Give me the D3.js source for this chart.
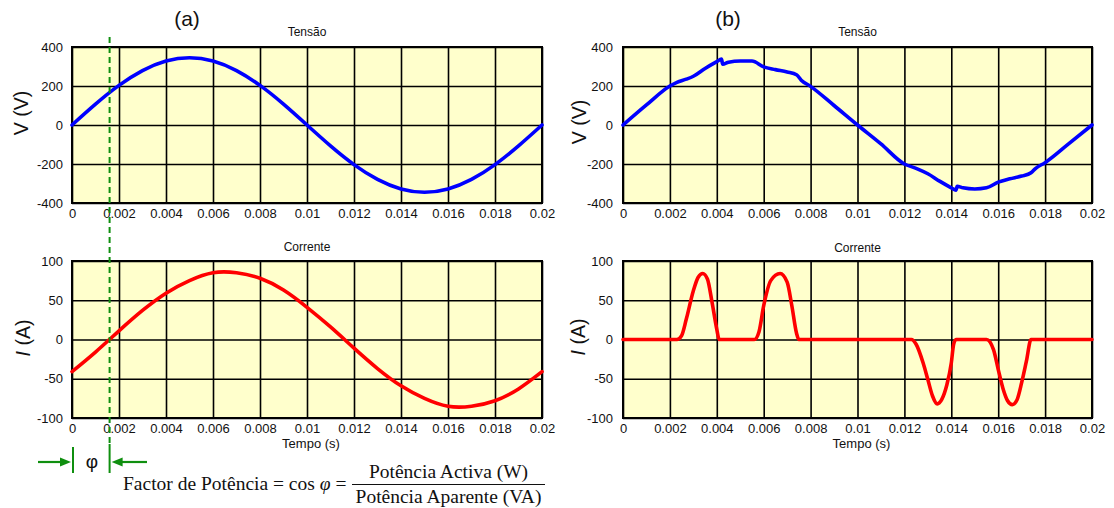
<!DOCTYPE html>
<html><head><meta charset="utf-8">
<script src="https://cdn.jsdelivr.net/npm/d3@7"></script>
<style>
body{margin:0;background:#fff;}
svg{display:block;font-family:"Liberation Sans",Arial,sans-serif;}
</style></head>
<body>
<script>
// ---------- data ----------
const xTicks = [0,0.002,0.004,0.006,0.008,0.01,0.012,0.014,0.016,0.018,0.02];
const xTickLabels = ["0","0.002","0.004","0.006","0.008","0.01","0.012","0.014","0.016","0.018","0.02"];
const vTicks = [-400,-200,0,200,400];
const vTickLabels = ["-400","-200","0","200","400"];
const iTicks = [-100,-50,0,50,100];
const iTickLabels = ["-100","-50","0","50","100"];

// (a) linear load
const tA = [0,0.001,0.002,0.003,0.004,0.005,0.006,0.007,0.008,0.009,0.01,0.011,0.012,0.013,0.014,0.015,0.016,0.017,0.018,0.019,0.02];
const vA = [0,107,203,279,328,345,328,279,203,107,0,-107,-203,-279,-328,-345,-328,-279,-203,-107,0];
const iA = [-41,-16,11,37,59,75,85,85,78,63,41,16,-11,-37,-59,-75,-85,-85,-78,-63,-41];

// (b) non-linear load
const tBv = [0,0.001,0.002,0.0023,0.0027,0.003,0.0035,0.004,0.0042,0.00425,0.0045,0.005,0.0055,0.006,0.0065,0.007,0.0074,0.0076,0.008,0.009,0.01,
             0.011,0.012,0.0125,0.013,0.0135,0.014,0.0142,0.01425,0.0145,0.015,0.0155,0.016,0.0165,0.017,0.0174,0.0176,0.018,0.019,0.02];
const vB  = [0,103,200,219,235,250,290,325,338,312,322,328,328,298,284,272,258,230,198,100,0,
             -97,-200,-222,-250,-288,-322,-334,-314,-322,-328,-322,-293,-276,-262,-245,-222,-193,-97,0];
const tBi = [0,0.0023,0.0025,0.0027,0.003,0.0032,0.0034,0.0036,0.0038,0.004,0.0041,0.0056,0.0058,0.006,0.0063,0.0067,0.007,0.0072,0.0074,0.0075,
             0.0123,0.0125,0.0128,0.013,0.0132,0.0134,0.0136,0.0138,0.014,0.0141,0.0142,0.0155,0.0158,0.016,0.0162,0.0164,0.0166,0.0168,0.017,0.0172,0.0174,0.02];
const iB  = [0,0,5,26,62,79,84,77,47,13,0,0,10,43,75,84,73,43,8,0,
             0,-6,-30,-51,-72,-82,-76,-59,-30,-6,0,0,-13,-38,-62,-78,-83,-77,-55,-28,0,0];

const panelTitles = ["Tensão","Corrente"];
const panelLetters = ["(a)","(b)"];

// ---------- drawing ----------
const W = 1114, H = 508;
const svg = d3.select("body").append("svg").attr("width",W).attr("height",H);
svg.append("rect").attr("width",W).attr("height",H).attr("fill","#fff");

const BG = "#FFFFCC";
const GREEN = "#0f8f0f";

function panel(o){
  const x = d3.scaleLinear().domain([0,0.02]).range(o.xr);
  const y = d3.scaleLinear().domain(o.yd).range(o.yr);
  const g = svg.append("g");
  g.append("rect").attr("x",o.xr[0]).attr("y",o.yr[1])
    .attr("width",o.xr[1]-o.xr[0]).attr("height",o.yr[0]-o.yr[1]).attr("fill",BG);

  const ax = g.append("g").attr("transform",`translate(0,${o.yr[0]})`)
    .call(d3.axisBottom(x).tickValues(xTicks).tickSize(-(o.yr[0]-o.yr[1])).tickPadding(6)
      .tickFormat((d,i)=>xTickLabels[i]));
  const ay = g.append("g").attr("transform",`translate(${o.xr[0]},0)`)
    .call(d3.axisLeft(y).tickValues(o.yt).tickSize(-(o.xr[1]-o.xr[0])).tickPadding(o.ypad)
      .tickFormat((d,i)=>o.ytl[i]));
  [ax,ay].forEach(a=>{
    a.select(".domain").remove();
    a.selectAll("line").attr("stroke","#000").attr("stroke-width",1.6);
    a.selectAll("text").attr("font-size",13).attr("fill","#111")
      .attr("font-family","'Liberation Sans',Arial,sans-serif");
  });
  g.append("rect").attr("x",o.xr[0]).attr("y",o.yr[1])
    .attr("width",o.xr[1]-o.xr[0]).attr("height",o.yr[0]-o.yr[1])
    .attr("fill","none").attr("stroke","#000").attr("stroke-width",2);

  const line = d3.line().x(d=>x(d[0])).y(d=>y(d[1])).curve(o.curve);
  g.append("path").datum(o.t.map((t,i)=>[t,o.v[i]]))
    .attr("d",line).attr("fill","none").attr("stroke",o.color)
    .attr("stroke-width",3.6).attr("stroke-linejoin","round").attr("stroke-linecap","round");

  const cx = (o.xr[0]+o.xr[1])/2;
  g.append("text").attr("x",cx).attr("y",o.titleY).attr("text-anchor","middle")
    .attr("font-size",12).attr("fill","#111").text(o.title);

  const yl = g.append("text").attr("transform",`translate(${o.ylx},${o.yly}) rotate(-90)`)
    .attr("text-anchor","middle").attr("font-size",19.5).attr("fill","#111");
  yl.append("tspan").attr("font-style","italic").text(o.ylab[0]);
  yl.append("tspan").text(o.ylab[1]);

  if(o.tempo){
    g.append("text").attr("x",cx+4).attr("y",448).attr("text-anchor","middle")
      .attr("font-size",13).attr("fill","#111").text("Tempo (s)");
  }
  return {x,y};
}

const L = [72,542], R = [623,1092];
const TOP = [203,47], BOT = [418,261];

const pa = panel({xr:L,yr:TOP,yd:[-400,400],yt:vTicks,ytl:vTickLabels,ypad:9,t:tA,v:vA,color:"#0000ff",
  curve:d3.curveNatural,title:panelTitles[0],titleY:36,ylab:["","V (V)"],ylx:28,yly:113});
panel({xr:L,yr:BOT,yd:[-100,100],yt:iTicks,ytl:iTickLabels,ypad:9,t:tA,v:iA,color:"#ff0000",
  curve:d3.curveNatural,title:panelTitles[1],titleY:251,ylab:["I"," (A)"],ylx:30,yly:338,tempo:true});
panel({xr:R,yr:TOP,yd:[-400,400],yt:vTicks,ytl:vTickLabels,ypad:10,t:tBv,v:vB,color:"#0000ff",
  curve:d3.curveMonotoneX,title:panelTitles[0],titleY:36,ylab:["","V (V)"],ylx:586,yly:122});
panel({xr:R,yr:BOT,yd:[-100,100],yt:iTicks,ytl:iTickLabels,ypad:10,t:tBi,v:iB,color:"#ff0000",
  curve:d3.curveMonotoneX,title:panelTitles[1],titleY:252,ylab:["I"," (A)"],ylx:585,yly:337,tempo:true});

// panel letters
svg.append("text").attr("x",187).attr("y",26).attr("text-anchor","middle").attr("font-size",21).attr("fill","#111").text(panelLetters[0]);
svg.append("text").attr("x",728).attr("y",26).attr("text-anchor","middle").attr("font-size",21).attr("fill","#111").text(panelLetters[1]);

// phase shift annotation
const phiT = 0.0016;
const px = pa.x(phiT);
svg.append("line").attr("x1",px).attr("x2",px).attr("y1",37).attr("y2",446)
  .attr("stroke",GREEN).attr("stroke-width",2).attr("stroke-dasharray","6,4");
svg.append("line").attr("x1",px).attr("x2",px).attr("y1",444).attr("y2",473)
  .attr("stroke",GREEN).attr("stroke-width",2);
svg.append("line").attr("x1",pa.x(0)+1).attr("x2",pa.x(0)+1).attr("y1",447).attr("y2",473)
  .attr("stroke",GREEN).attr("stroke-width",2);
// arrows
svg.append("line").attr("x1",38).attr("x2",62).attr("y1",462).attr("y2",462).attr("stroke",GREEN).attr("stroke-width",2.2);
svg.append("path").attr("d",`M${pa.x(0)-1},462 L${pa.x(0)-12},457.5 L${pa.x(0)-12},466.5 Z`).attr("fill",GREEN);
svg.append("line").attr("x1",px+12).attr("x2",147).attr("y1",462).attr("y2",462).attr("stroke",GREEN).attr("stroke-width",2.2);
svg.append("path").attr("d",`M${px+2},462 L${px+13},457.5 L${px+13},466.5 Z`).attr("fill",GREEN);
svg.append("text").attr("x",92).attr("y",468).attr("text-anchor","middle").attr("font-size",19).attr("fill","#111").text("φ");

// formula
const fs = 19.5;
const fg = svg.append("g").attr("font-family","'Liberation Serif','Times New Roman',serif").attr("font-size",fs).attr("fill","#111");
const main = fg.append("text").attr("x",123).attr("y",490);
main.append("tspan").text("Factor de Potência = cos ");
main.append("tspan").attr("font-style","italic").text("φ");
main.append("tspan").text(" =");
fg.append("line").attr("x1",352).attr("x2",545).attr("y1",484.5).attr("y2",484.5).attr("stroke","#111").attr("stroke-width",1.2);
fg.append("text").attr("x",448.5).attr("y",478).attr("text-anchor","middle").text("Potência Activa (W)");
fg.append("text").attr("x",448.5).attr("y",503).attr("text-anchor","middle").text("Potência Aparente (VA)");
</script>
</body></html>
